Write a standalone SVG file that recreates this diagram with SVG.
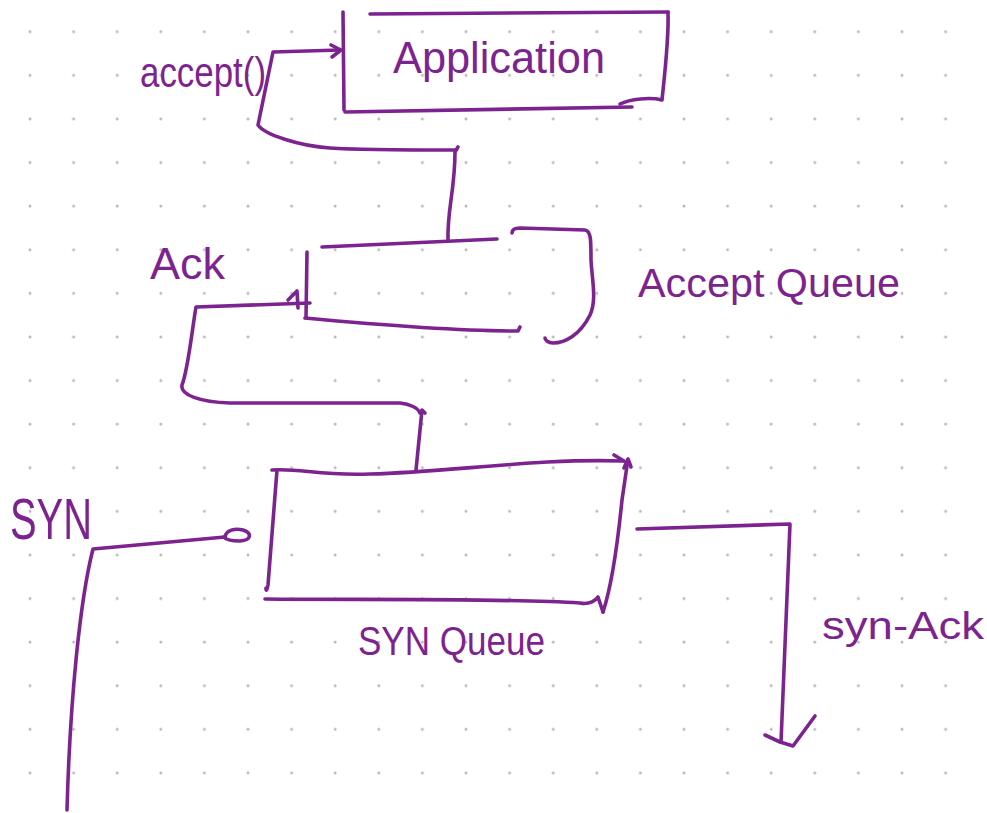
<svg xmlns="http://www.w3.org/2000/svg" width="987" height="813" viewBox="0 0 987 813">
  <defs>
    <pattern id="dots" patternUnits="userSpaceOnUse" x="8.2" y="9.9" width="43.6" height="43.6">
      <circle cx="21.8" cy="21.8" r="1.5" fill="#b8b8b8"/>
    </pattern>
    <style>
      .ink { fill: none; stroke: #7d2390; stroke-width: 3.6; stroke-linecap: round; stroke-linejoin: round; }
      .label { fill: #7d2390; font-family: "Liberation Sans", "DejaVu Sans", sans-serif; }
    </style>
  </defs>

  <!-- dotted paper background -->
  <rect width="987" height="813" fill="#ffffff"/>
  <rect width="987" height="813" fill="url(#dots)"/>

  <!-- Application box -->
  <g id="application">
    <path class="ink" d="M343 12 L344 110"/>
    <path class="ink" d="M370 14 L668 12"/>
    <path class="ink" d="M668 12 C669 40 664 80 662 100 C650 97 630 99 620 104"/>
    <path class="ink" d="M345 112 L632 107"/>
    <text class="label" x="393" y="73" font-size="44" textLength="212" lengthAdjust="spacingAndGlyphs">Application</text>
  </g>

  <!-- Accept queue box -->
  <g id="accept-queue">
    <path class="ink" d="M322 247 L497 239"/>
    <path class="ink" d="M307 252 L306 318"/>
    <path class="ink" d="M305 318 C380 325 460 331 518 331 L520 327"/>
    <path class="ink" d="M512 233 C512 229 515 228 520 228 L585 230 C591 231 591 240 591 260 C592 280 597 300 590 315 C580 335 565 343 553 343 C548 343 545 340 545 338"/>
    <text class="label" x="638" y="297" font-size="40" textLength="262" lengthAdjust="spacingAndGlyphs">Accept Queue</text>
  </g>

  <!-- SYN queue box -->
  <g id="syn-queue">
    <path class="ink" d="M272 470 C300 468 320 476 370 474 C450 472 540 458 623 461"/>
    <path class="ink" d="M614 455 L624 461"/>
    <path class="ink" d="M277 470 L268 585 C267 590 266 592 266 588"/>
    <path class="ink" d="M265 599 C350 600 500 598 580 603 C590 605 596 600 598 597 L603 612"/>
    <path class="ink" d="M603 612 C612 585 618 540 622 500 C625 480 627 465 628 460"/>
    <path class="ink" d="M624 468 L628 459 L631 467"/>
    <text class="label" x="358" y="655" font-size="40" textLength="187" lengthAdjust="spacingAndGlyphs">SYN Queue</text>
  </g>

  <!-- free labels -->
  <g id="labels">
    <text class="label" x="140" y="87" font-size="42" textLength="126" lengthAdjust="spacingAndGlyphs">accept()</text>
    <text class="label" x="150" y="279" font-size="44" textLength="75" lengthAdjust="spacingAndGlyphs">Ack</text>
    <text class="label" x="10" y="539" font-size="58" textLength="82" lengthAdjust="spacingAndGlyphs">SYN</text>
    <text class="label" x="822" y="639" font-size="38" textLength="162" lengthAdjust="spacingAndGlyphs">syn-Ack</text>
  </g>

  <!-- connectors -->
  <g id="connectors">
    <!-- accept queue up to the application (accept call) -->
    <path class="ink" d="M448 240 C447 210 455 190 455 152 L458 147"/>
    <path class="ink" d="M455 150 C420 150 360 150 330 148 C300 146 265 135 258 125 L273 52 L340 50"/>
    <path class="ink" d="M331 45 L341 50 L332 57"/>
    <!-- syn queue up to the accept queue (ack) -->
    <path class="ink" d="M416 470 C418 450 420 430 422 410 L425 413"/>
    <path class="ink" d="M420 413 C418 408 410 404 400 403 L230 403 C200 402 180 395 182 385 C188 370 192 330 196 307 L310 303"/>
    <path class="ink" d="M288 300 L297 291 L298 308"/>
    <!-- incoming SYN into the syn queue -->
    <path class="ink" d="M67 810 C70 700 80 600 93 549 L225 537"/>
    <path class="ink" d="M225 537 C226 530 235 528 243 530 C252 533 252 540 240 541 C233 541 226 540 224 537"/>
    <!-- outgoing SYN-ACK -->
    <path class="ink" d="M637 529 L790 524 L781 742"/>
    <path class="ink" d="M765 735 L780 742 L793 746 L815 716"/>
  </g>
</svg>
